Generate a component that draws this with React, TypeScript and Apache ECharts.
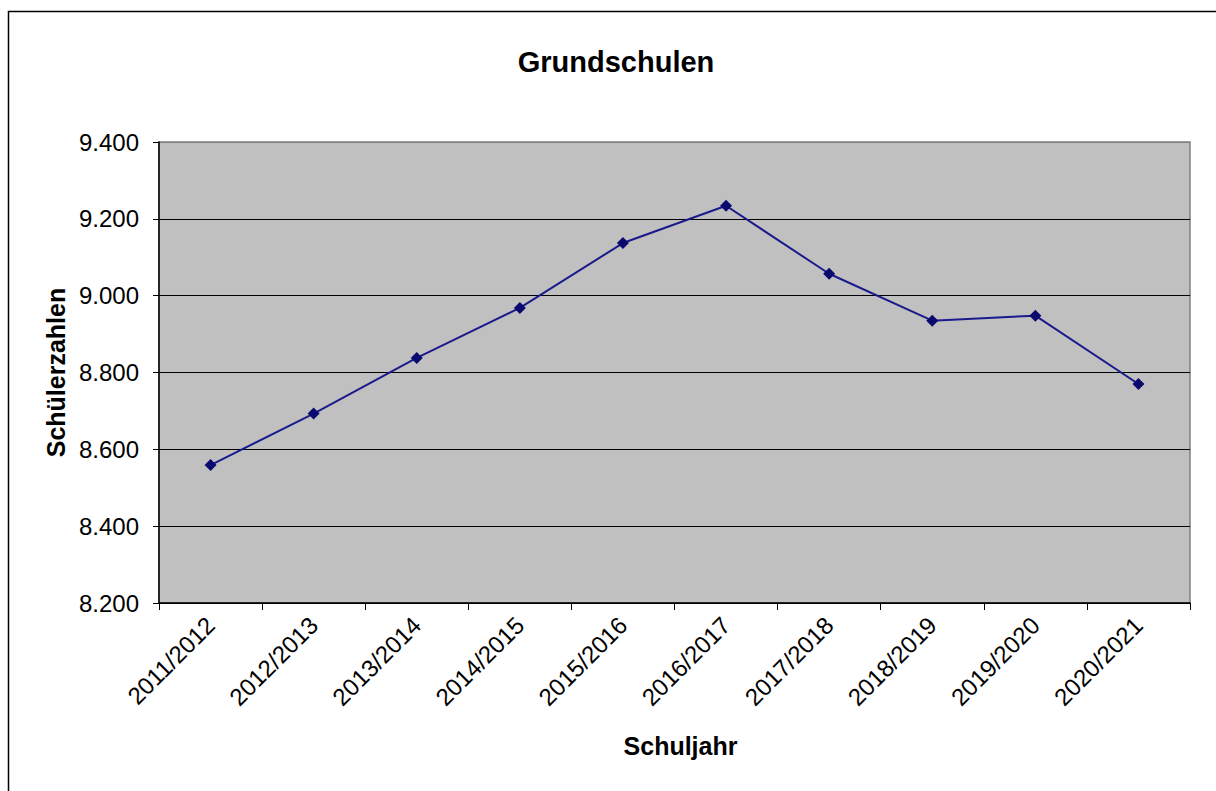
import React, { useEffect, useRef } from "react";
import * as echarts from "echarts";

const categories = [
  "2011/2012", "2012/2013", "2013/2014", "2014/2015", "2015/2016",
  "2016/2017", "2017/2018", "2018/2019", "2019/2020", "2020/2021",
];
const schuelerzahlen = [8559, 8693, 8838, 8968, 9137, 9234, 9057, 8935, 8948, 8770];
const yTicks = { min: 8200, max: 9400, interval: 200 };

const FONT = "'Liberation Sans', Arial, sans-serif";

export default function App() {
  const ref = useRef<HTMLDivElement>(null);
  useEffect(() => {
    if (!ref.current) return;
    const chart = echarts.init(ref.current, undefined, { renderer: "svg" });
    chart.setOption({
      animation: false,
      backgroundColor: "#ffffff",
      textStyle: { fontFamily: FONT },
      title: {
        text: "Grundschulen",
        left: 611,
        top: 42,
        textAlign: "center",
        textStyle: { fontFamily: FONT, fontSize: 29, fontWeight: "bold", color: "#000" },
      },
      grid: {
        left: 159,
        top: 142,
        width: 1031,
        height: 461,
        show: true,
        backgroundColor: "#c0c0c0",
        borderColor: "#808080",
        borderWidth: 1.5,
      },
      xAxis: {
        type: "category",
        data: categories,
        boundaryGap: true,
        name: "Schuljahr",
        nameLocation: "middle",
        nameGap: 130,
        nameTextStyle: {
          fontFamily: FONT,
          fontSize: 25,
          fontWeight: "bold",
          color: "#000",
          padding: [0, 0, 0, 12],
        },
        axisLine: { show: true, lineStyle: { color: "#000", width: 1.5 } },
        axisTick: { show: true, alignWithLabel: false, length: 7, lineStyle: { color: "#000" } },
        axisLabel: {
          rotate: 45,
          margin: 18,
          fontFamily: FONT,
          fontSize: 24,
          color: "#000",
          interval: 0,
        },
        splitLine: { show: false },
      },
      yAxis: {
        type: "value",
        min: yTicks.min,
        max: yTicks.max,
        interval: yTicks.interval,
        name: "Schülerzahlen",
        nameLocation: "middle",
        nameGap: 89,
        nameTextStyle: { fontFamily: FONT, fontSize: 25, fontWeight: "bold", color: "#000" },
        axisLine: { show: true, lineStyle: { color: "#000", width: 1.5 } },
        axisTick: { show: true, length: 6, lineStyle: { color: "#000" } },
        axisLabel: {
          margin: 20,
          fontFamily: FONT,
          fontSize: 24,
          color: "#000",
          formatter: (v: number) => {
            const s = String(Math.round(v));
            return s.length > 3 ? s.slice(0, s.length - 3) + "." + s.slice(-3) : s;
          },
        },
        splitLine: {
          show: true,
          lineStyle: {
            color: ["#000", "#000", "#000", "#000", "#000", "#000", "#808080"],
            width: 1,
          },
        },
      },
      graphic: [
        {
          type: "rect",
          shape: { x: 8.5, y: 11.5, width: 1400, height: 1000 },
          style: { fill: "none", stroke: "#000", lineWidth: 1.5 },
          silent: true,
          z: 100,
        },
      ],
      series: [
        {
          type: "line",
          data: schuelerzahlen,
          symbol: "diamond",
          symbolSize: 12,
          lineStyle: { color: "#1a1a8c", width: 2 },
          itemStyle: { color: "#0a0a6e" },
        },
      ],
    });
    return () => chart.dispose();
  }, []);
  return (
    <div
      ref={ref}
      style={{ position: "absolute", left: 0, top: 0, width: 1216, height: 791 }}
    />
  );
}
